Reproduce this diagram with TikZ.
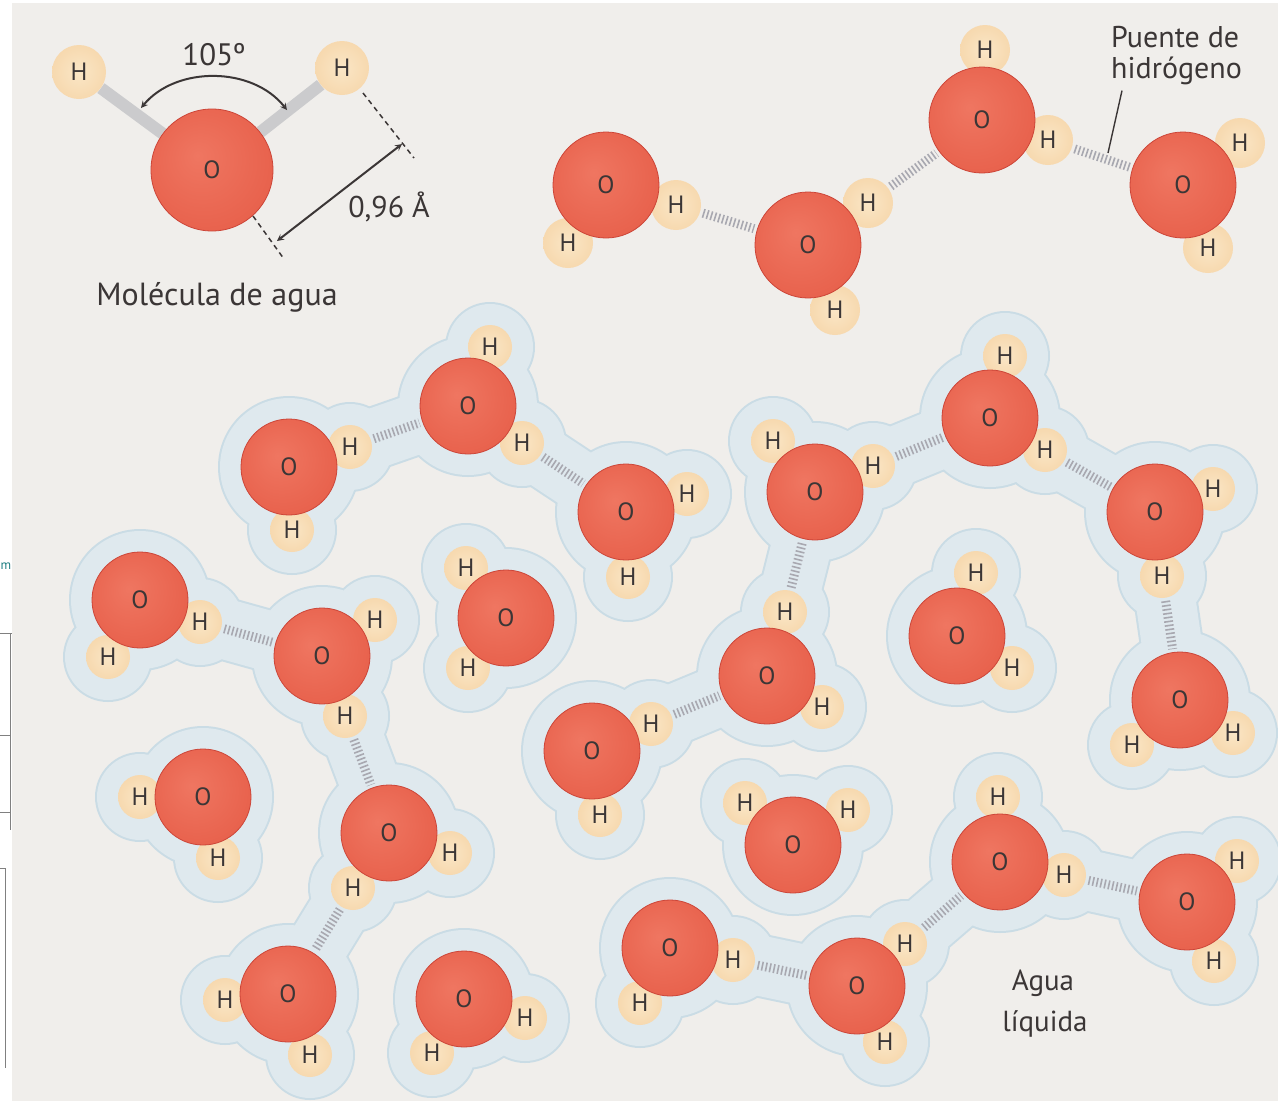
\documentclass[tikz,border=0pt]{standalone}
\usepackage{fontspec}
\setmainfont{PT Sans}
\usetikzlibrary{arrows}

\definecolor{paper}{HTML}{F0EEEB}
\definecolor{ink}{HTML}{3B3636}
\definecolor{oxylight}{HTML}{EF7661}
\definecolor{oxymid}{HTML}{E8624D}
\definecolor{oxydark}{HTML}{D84C3B}
\definecolor{oxyrim}{HTML}{CC4538}
\definecolor{hydlight}{HTML}{FAE6C6}
\definecolor{hydmid}{HTML}{F6D6AA}
\definecolor{hyddark}{HTML}{EEC48E}
\definecolor{haloline}{HTML}{CADCE5}
\definecolor{halofill}{HTML}{DFE9EE}
\definecolor{hbgray}{HTML}{A8A8B0}
\definecolor{bondgray}{HTML}{CBCBCD}
\definecolor{teal}{HTML}{1E7F82}

\pgfdeclareradialshading{oxyball}{\pgfpoint{-6bp}{6bp}}{%
  color(0bp)=(oxylight); color(28bp)=(oxymid); color(50bp)=(oxydark)}
\pgfdeclareradialshading{hydball}{\pgfpoint{0bp}{0bp}}{%
  color(0bp)=(hydlight); color(30bp)=(hydmid); color(50bp)=(hyddark)}

\pgfdeclarelayer{sheet}
\pgfdeclarelayer{haloedge}
\pgfdeclarelayer{halobody}
\pgfdeclarelayer{bridge}
\pgfsetlayers{sheet,haloedge,halobody,bridge,main}

% one water molecule: oxygen #1, hydrogens #1-a and #1-b
\newcommand{\water}[4]{%
  \node[hyd] (#1-a) at #3 {H};
  \node[hyd] (#1-b) at #4 {H};
  \node[oxy] (#1) at #2 {O};}

% dashed hydrogen bond from a hydrogen to an oxygen
\newcommand{\hbond}[2]{%
  \begin{pgfonlayer}{bridge}
    \draw[hbridge] (#1) -- (#2);
  \end{pgfonlayer}}

% blue cloud round a group of molecules
\newcommand{\cloud}[1]{%
  \foreach \m in {#1}{%
    \begin{pgfonlayer}{haloedge}
      \fill[haloline] (\m) circle (71pt) (\m-a) circle (45pt) (\m-b) circle (45pt);
    \end{pgfonlayer}
    \begin{pgfonlayer}{halobody}
      \fill[halofill] (\m) circle (69pt) (\m-a) circle (43pt) (\m-b) circle (43pt);
    \end{pgfonlayer}}}

% neck of the cloud along a hydrogen bond
\newcommand{\neck}[2]{%
  \begin{pgfonlayer}{haloedge}
    \draw[haloline, line width=64pt] (#1.center) -- (#2.center);
  \end{pgfonlayer}
  \begin{pgfonlayer}{halobody}
    \draw[halofill, line width=60pt] (#1.center) -- (#2.center);
  \end{pgfonlayer}}

\begin{document}
\begin{tikzpicture}[x=1pt,y=-1pt,>=stealth,
    oxy/.style={circle, shading=oxyball, shade, draw=oxyrim, line width=0.8pt,
      minimum size=96pt, inner sep=0pt, text=ink, font=\fontsize{25}{25}\selectfont},
    hyd/.style={circle, shading=hydball, shade, minimum size=44pt, inner sep=0pt,
      text=ink, font=\fontsize{25}{25}\selectfont},
    hbridge/.style={draw=hbgray, line width=9pt, dash pattern=on 1.6pt off 2.4pt,
      shorten <=3pt, shorten >=3pt},
    bond/.style={draw=bondgray, line width=12pt},
    label/.style={text=ink, inner sep=0pt, font=\fontsize{31}{31}\selectfont},
    dim/.style={ink, line width=1.5pt, dash pattern=on 5pt off 4pt}]

    \useasboundingbox (0,0) rectangle (1278,1101);
    \begin{pgfonlayer}{sheet}
        \fill[white] (0,0) rectangle (1278,1101);
        \fill[paper] (12,3) rectangle (1278,1101);
    \end{pgfonlayer}

    % edge of the facing page
    \node[text=teal, anchor=base east, inner sep=0pt, font=\fontsize{13}{13}\selectfont] (pagem) at (11.5,569) {m};
    \draw[gray, line width=1pt] (0,633) -- (12,633) (10,633) -- (10,830)
        (0,735) -- (10,735) (0,812) -- (10,812);
    \draw[gray, line width=1pt] (0,868) -- (5,868) -- (5,1068);

    % single molecule with its sizes
    \begin{scope}[oxy/.append style={minimum size=122pt}, hyd/.append style={minimum size=54pt}]
        \water{w}{(212,170)}{(79,72)}{(342,68)}
    \end{scope}
    \begin{pgfonlayer}{bridge}
        \draw[bond] (w-a) -- (w) (w-b) -- (w);
    \end{pgfonlayer}

    \coordinate (arcL) at (141,108);
    \coordinate (arcR) at (287,110);
    \draw[<->, ink, line width=2pt] (arcL) .. controls (176,66) and (252,66) .. (arcR);
    \node[label, anchor=base] (angle) at (214,65) {105º};

    \coordinate (dimtopA) at (363,93);
    \coordinate (dimtopB) at (414,158);
    \coordinate (dimlowA) at (253,216);
    \coordinate (dimlowB) at (284,259);
    \coordinate (dimA) at (402,144);
    \coordinate (dimB) at (277,241);
    \draw[dim] (dimtopA) -- (dimtopB);
    \draw[dim] (dimlowA) -- (dimlowB);
    \draw[<->, ink, line width=2pt] (dimA) -- (dimB);
    \node[label, anchor=base, font=\fontsize{30}{30}\selectfont] (length) at (389,217) {0,96 Å};
    \node[label, anchor=base, font=\fontsize{32}{32}\selectfont] (title) at (217,305) {Molécula de agua};

    % chain along the top
    \begin{scope}[oxy/.append style={minimum size=106pt}, hyd/.append style={minimum size=50pt}]
        \water{t1}{(606,185)}{(676,205)}{(568,243)}
        \water{t2}{(808,245)}{(868,203)}{(835,310)}
        \water{t3}{(982,120)}{(985,50)}{(1048,140)}
        \water{t4}{(1183,185)}{(1240,143)}{(1208,248)}
    \end{scope}
    \hbond{t1-a}{t2}
    \hbond{t2-a}{t3}
    \hbond{t3-b}{t4}

    \node[label, anchor=base west, font=\fontsize{30}{30}\selectfont] (bridgetop) at (1111,47) {Puente de};
    \node[label, anchor=base west, font=\fontsize{30}{30}\selectfont] (bridgelabel) at (1111,78) {hidrógeno};
    \coordinate (bridgept) at (1108,153);
    \draw[ink, line width=1.4pt] ([xshift=11pt,yshift=-6pt]bridgelabel.south west) -- (bridgept);

    % liquid water
    \water{a1}{(289,467)}{(350,447)}{(292,530)}
    \water{a2}{(468,406)}{(490,347)}{(522,443)}
    \water{a3}{(626,512)}{(687,494)}{(628,577)}
    \water{d}{(506,618)}{(466,568)}{(468,668)}

    \water{b1}{(815,492)}{(773,441)}{(873,466)}
    \water{b2}{(990,418)}{(1005,356)}{(1045,450)}
    \water{b3}{(1155,512)}{(1213,489)}{(1162,576)}
    \water{b4}{(1180,700)}{(1132,745)}{(1233,733)}
    \water{c1}{(767,676)}{(785,612)}{(822,707)}
    \water{c2}{(592,751)}{(651,724)}{(600,815)}
    \water{e}{(957,636)}{(976,573)}{(1012,668)}

    \water{f1}{(140,600)}{(200,622)}{(108,657)}
    \water{f2}{(322,656)}{(375,620)}{(345,716)}
    \water{f3}{(389,833)}{(450,853)}{(353,888)}
    \water{f4}{(288,994)}{(225,1000)}{(310,1055)}
    \water{g}{(203,797)}{(140,797)}{(218,858)}
    \water{k}{(464,999)}{(525,1018)}{(432,1053)}
    \water{i}{(793,845)}{(745,803)}{(848,810)}

    \water{j1}{(670,948)}{(733,960)}{(640,1003)}
    \water{j2}{(857,986)}{(905,944)}{(885,1042)}
    \water{j3}{(1000,862)}{(998,797)}{(1064,875)}
    \water{j4}{(1187,902)}{(1237,861)}{(1214,961)}

    \cloud{a1,a2,a3}
    \neck{a1-a}{a2}
    \neck{a2-b}{a3}
    \hbond{a1-a}{a2}
    \hbond{a2-b}{a3}
    \cloud{d}

    \cloud{b1,b2,b3,b4,c1,c2}
    \neck{b1-b}{b2}
    \neck{b2-b}{b3}
    \neck{b3-b}{b4}
    \neck{c1-a}{b1}
    \neck{c2-a}{c1}
    \hbond{b1-b}{b2}
    \hbond{b2-b}{b3}
    \hbond{b3-b}{b4}
    \hbond{c1-a}{b1}
    \hbond{c2-a}{c1}
    \cloud{e}

    \cloud{f1,f2,f3,f4}
    \neck{f1-a}{f2}
    \neck{f2-b}{f3}
    \neck{f3-b}{f4}
    \hbond{f1-a}{f2}
    \hbond{f2-b}{f3}
    \hbond{f3-b}{f4}
    \cloud{g}
    \cloud{k}
    \cloud{i}

    \cloud{j1,j2,j3,j4}
    \neck{j1-a}{j2}
    \neck{j2-a}{j3}
    \neck{j3-b}{j4}
    \hbond{j1-a}{j2}
    \hbond{j2-a}{j3}
    \hbond{j3-b}{j4}

    \node[label, anchor=base, font=\fontsize{29}{29}\selectfont] (liquid) at (1043,990) {Agua};
    \node[label, anchor=base, font=\fontsize{29}{29}\selectfont] (liquid2) at (1045,1031) {líquida};
\end{tikzpicture}
\end{document}
